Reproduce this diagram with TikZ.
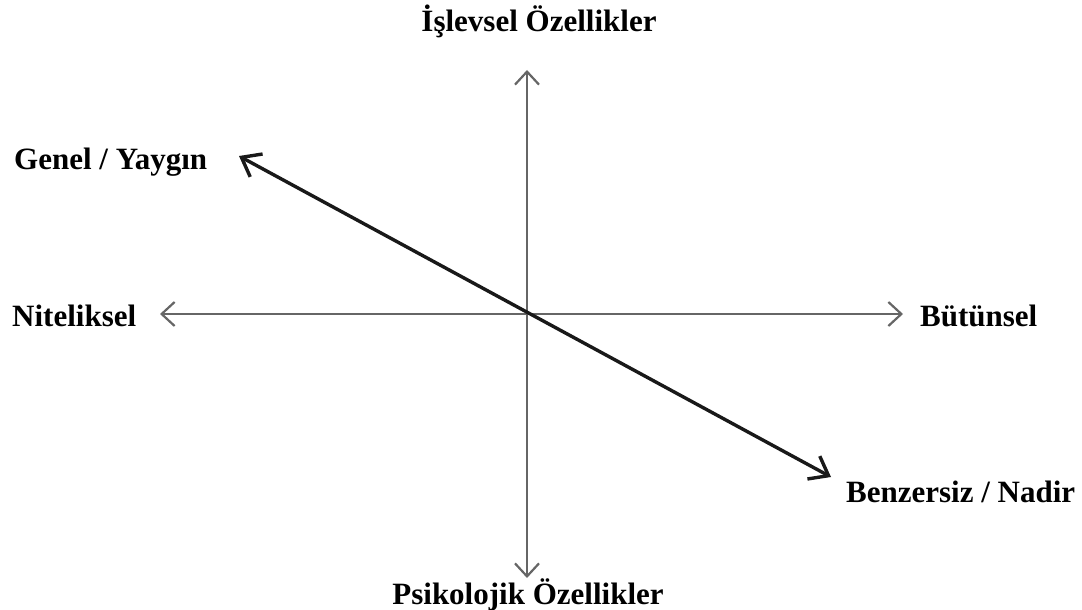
\documentclass[tikz,border=0pt]{standalone}
\usepackage{fontspec}
\setmainfont{Liberation Serif}
\usepackage{tikz}
\usetikzlibrary{arrows.meta, positioning}
\tikzset{
  axis/.style={draw=black!60, line width=2.2pt,
               {Straight Barb[length=13pt, width=24pt]}-{Straight Barb[length=13pt, width=24pt]}},
  diag/.style={draw=black!90, line width=3.4pt,
               {Straight Barb[length=17pt, width=26pt]}-{Straight Barb[length=17pt, width=26pt]}},
  lbl/.style={font=\fontsize{31}{34}\selectfont\bfseries, inner sep=0pt}
}

\begin{document}
\begin{tikzpicture}[x=1pt, y=-1pt]
  \useasboundingbox (0,0) rectangle (1082,610);
  % axis ends
  \coordinate (o) at (527,314);
  \coordinate (top) at (527,70);
  \coordinate (bot) at (527,578);
  \coordinate (lft) at (160,314);
  \coordinate (rgt) at (903,314);
  \coordinate (gen) at (239,156);
  \coordinate (ben) at (831,477);
  % labels
  \node[lbl, anchor=base] (islev) at (539,32) {İşlevsel Özellikler};
  \node[lbl, anchor=base] (psiko) at (528,604) {Psikolojik Özellikler};
  \node[lbl, anchor=base west] (nitel) at (12,326) {Niteliksel};
  \node[lbl, anchor=base west] (butun) at (920,326) {Bütünsel};
  \node[lbl, anchor=base west] (genel) at (14,169) {Genel / Yaygın};
  \node[lbl, anchor=base west] (benz) at (846,502) {Benzersiz / Nadir};
  % arrows
  \draw[axis] (bot) -- (top);
  \draw[axis] (lft) -- (rgt);
  \draw[diag] (gen) -- (ben);
\end{tikzpicture}
\end{document}
